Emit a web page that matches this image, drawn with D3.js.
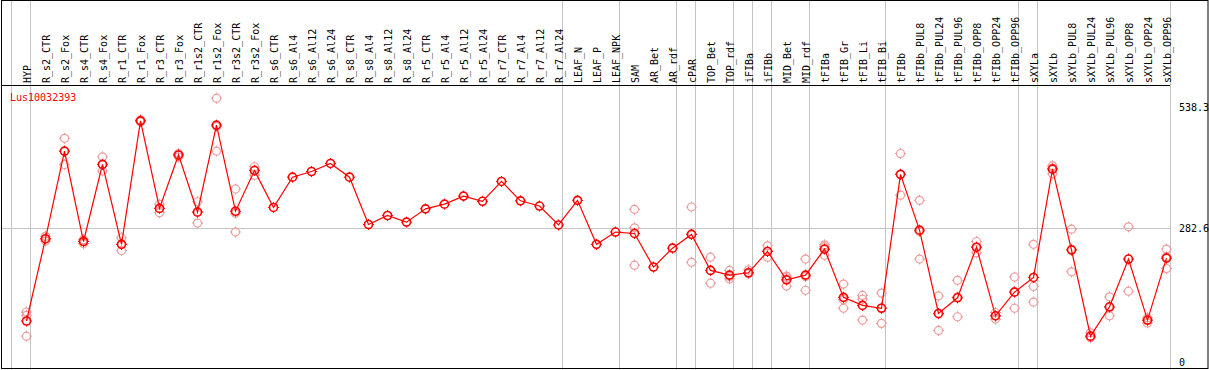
<!DOCTYPE html>
<html>
<head>
<meta charset="utf-8">
<script src="https://cdn.jsdelivr.net/npm/d3@7"></script>
<style>
  body { margin: 0; background: #fff; }
  svg { display: block; }
</style>
</head>
<body>
<div id="chart"></div>
<script>
// sample names, one column each
const samples = [
  "HYP", "R_s2_CTR", "R_s2_Fox", "R_s4_CTR", "R_s4_Fox", "R_r1_CTR", "R_r1_Fox",
  "R_r3_CTR", "R_r3_Fox", "R_r1s2_CTR", "R_r1s2_Fox", "R_r3s2_CTR", "R_r3s2_Fox",
  "R_s6_CTR", "R_s6_Al4", "R_s6_Al12", "R_s6_Al24", "R_s8_CTR", "R_s8_Al4", "R_s8_Al12",
  "R_s8_Al24", "R_r5_CTR", "R_r5_Al4", "R_r5_Al12", "R_r5_Al24", "R_r7_CTR", "R_r7_Al4",
  "R_r7_Al12", "R_r7_Al24", "LEAF_N", "LEAF_P", "LEAF_NPK", "SAM", "AR_Bet", "AR_rdf",
  "cPAR", "TOP_Bet", "TOP_rdf", "iFIBa", "iFIBb", "MID_Bet", "MID_rdf", "tFIBa",
  "tFIB_Gr", "tFIB_Li", "tFIB_Bi", "tFIBb", "tFIBb_PUL8", "tFIBb_PUL24", "tFIBb_PUL96",
  "tFIBb_OPP8", "tFIBb_OPP24", "tFIBb_OPP96", "sXYLa", "sXYLb", "sXYLb_PUL8",
  "sXYLb_PUL24", "sXYLb_PUL96", "sXYLb_OPP8", "sXYLb_OPP24", "sXYLb_OPP96"
];

// mean expression per sample
const means = [
  86, 260, 445, 254, 417, 248, 509, 324, 437, 316, 500, 318, 404,
  326, 390, 402, 419, 390, 290, 309, 295, 323, 333, 350, 339, 381, 340, 329, 289,
  341, 248, 274, 271, 200, 240, 269, 193, 183, 188, 233, 173, 183, 238,
  136, 119, 113, 396, 278, 102, 135, 242, 97, 147, 178, 407, 236, 54, 116, 217, 88, 219
];

// replicate values (empty where only one value exists)
const replicates = [
  [105, 98, 54], [265, 259, 255], [472, 445, 417], [258, 254, 250], [433, 417, 403],
  [262, 248, 235], [511, 509, 507], [333, 324, 315], [440, 437, 433], [338, 317, 293],
  [557, 497, 445], [365, 314, 274], [412, 405, 394],
  [], [], [], [], [], [], [], [], [], [], [], [], [], [], [], [], [], [], [],
  [322, 283, 204], [], [], [327, 270, 210], [221, 193, 166], [193, 180, 175],
  [194, 188, 186], [245, 234, 221], [181, 178, 160], [217, 180, 151], [247, 243, 225],
  [164, 131, 113], [140, 132, 88], [145, 114, 81], [440, 396, 352], [341, 275, 217],
  [139, 101, 66], [172, 137, 95], [254, 242, 230], [104, 97, 90], [179, 148, 113],
  [248, 159, 126], [414, 409, 397], [280, 238, 190], [61, 51, 51], [137, 114, 97],
  [285, 217, 149], [93, 87, 82], [238, 222, 197]
];

// first sample of each tissue group (gray separators)
const groupStarts = ["HYP", "R_s2_CTR", "LEAF_N", "SAM", "cPAR", "TOP_Bet", "iFIBa",
  "iFIBb", "MID_Bet", "tFIBa", "tFIBb", "sXYLa", "sXYLb"];

const yTicks = [0, 282.6, 538.3];
const geneName = "Lus10032393";

const width = 1209, height = 370;
const headerY = 85;
const mono = "'DejaVu Sans Mono', monospace";

const svg = d3.select("#chart").append("svg")
  .attr("width", width)
  .attr("height", height);

const x = d3.scaleBand()
  .domain(samples)
  .range([11, 11 + samples.length * 19])
  .padding(0);
const px = d => x(d) + 15.5;

const y = d3.scaleLinear()
  .domain([0, 538.3])
  .range([361.7, 107]);

const plotRight = x.range()[1];

// vertical group lines
svg.append("g")
  .selectAll("line")
  .data(groupStarts)
  .join("line")
  .attr("x1", d => Math.round(x(d)) + 0.5)
  .attr("x2", d => Math.round(x(d)) + 0.5)
  .attr("y1", 0)
  .attr("y2", height)
  .attr("stroke", "#c4c4c4");
svg.append("line")
  .attr("x1", plotRight + 0.5).attr("x2", plotRight + 0.5)
  .attr("y1", 0).attr("y2", height)
  .attr("stroke", "#c4c4c4");

// horizontal grid line at middle tick
svg.append("line")
  .attr("x1", 1).attr("x2", plotRight)
  .attr("y1", Math.round(y(282.6)) + 0.5)
  .attr("y2", Math.round(y(282.6)) + 0.5)
  .attr("stroke", "#c4c4c4");

// frame
svg.append("rect")
  .attr("x", 1.5).attr("y", 0.5)
  .attr("width", width - 2.5).attr("height", height - 2)
  .attr("fill", "none")
  .attr("stroke", "#000");
svg.append("line")
  .attr("x1", 1).attr("x2", plotRight)
  .attr("y1", headerY + 0.5).attr("y2", headerY + 0.5)
  .attr("stroke", "#000");

// column labels
svg.append("g")
  .selectAll("text")
  .data(samples)
  .join("text")
  .attr("transform", d => `translate(${px(d) + 4},${headerY - 2}) rotate(-90)`)
  .style("font-family", mono)
  .style("font-size", "10px")
  .attr("fill", "#000")
  .text(d => d);

// y tick labels on the right
svg.append("g")
  .selectAll("text")
  .data(yTicks)
  .join("text")
  .attr("x", plotRight + 9)
  .attr("y", d => y(d) + 4)
  .style("font-family", mono)
  .style("font-size", "10px")
  .attr("fill", "#000")
  .text(d => d);

// gene name
svg.append("text")
  .attr("x", 10)
  .attr("y", 101)
  .style("font-family", mono)
  .style("font-size", "10px")
  .attr("fill", "#ff0000")
  .text(geneName);

// little marker: circle with tiny ticks
function marker(g, cx, cy, color, sw) {
  g.append("circle")
    .attr("cx", cx).attr("cy", cy).attr("r", 4)
    .attr("fill", "none")
    .attr("stroke", color)
    .attr("stroke-width", sw);
  g.append("path")
    .attr("d", `M${cx},${cy - 5.5}v1.5M${cx},${cy + 4}v1.5M${cx - 5.5},${cy}h1.5M${cx + 4},${cy}h1.5`)
    .attr("stroke", color)
    .attr("stroke-width", 1);
}

// replicates
const repG = svg.append("g");
samples.forEach((s, i) => {
  replicates[i].forEach(v => marker(repG, px(s), y(v), "#f09a9a", 1.2));
});

// means
const meanG = svg.append("g");
samples.forEach((s, i) => marker(meanG, px(s), y(means[i]), "#ff0000", 1.6));

// line through means
const line = d3.line()
  .x((d, i) => px(samples[i]))
  .y(d => y(d));
svg.append("path")
  .datum(means)
  .attr("fill", "none")
  .attr("stroke", "#ff0000")
  .attr("stroke-width", 1.2)
  .attr("d", line);
</script>
</body>
</html>
